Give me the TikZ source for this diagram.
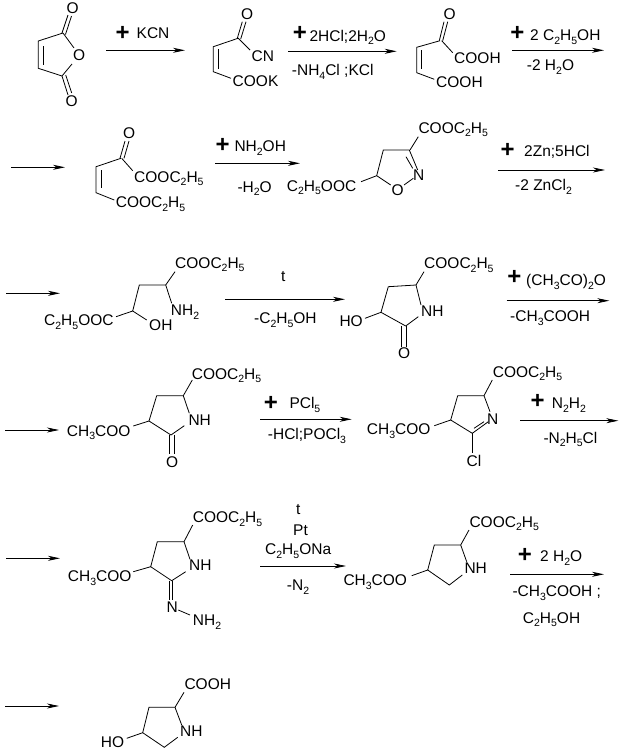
\documentclass[tikz,border=0pt]{standalone}
\usepackage{fontspec}
\setmainfont{Liberation Sans}
\usetikzlibrary{arrows.meta}
\newcommand{\dn}[1]{\raisebox{-3.5pt}{\fontsize{10.5}{11}\selectfont #1}}
\tikzset{
  lab/.style={anchor=base west, inner sep=0pt, font=\fontsize{15.5}{18}\selectfont},
  pluss/.style={inner sep=0pt, font=\fontsize{24}{24}\selectfont\bfseries},
  bond/.style={line width=0.8pt},
  rarrow/.style={line width=0.8pt, -{Stealth[length=12pt, width=5pt, inset=3.5pt]}}
}
\begin{document}
\begin{tikzpicture}[x=1pt, y=-1pt]
  \useasboundingbox (0,0) rectangle (623,755);

  \node[lab] (oa) at (66.5,13.5) {O};
  \node[lab] (ob) at (73,60.5) {O};
  \node[lab] (oc) at (65.5,106) {O};
  \draw[bond] (63,33) -- (38.3,41) -- (38.3,68.3) -- (62,76) -- (72,64);
  \draw[bond] (63,33) -- (74,48);
  \draw[bond] (43.3,46) -- (43.3,65);
  \draw[bond] (62,33) -- (68,15) (65.5,34.5) -- (71.5,16);
  \draw[bond] (62,76) -- (68,95) (65.7,75) -- (71.7,93);

  \coordinate (s1) at (106,50.3);
  \coordinate (e1) at (185,50.3);
  \draw[rarrow] (s1) -- (e1);
  \node[pluss] (p1) at (122.7,33) {+};
  \node[lab] (kcn) at (136.5,38.5) {KCN};

  \node[lab] (ob2) at (241,19) {O};
  \node[lab] (cn) at (251.5,61.5) {CN};
  \node[lab] (cook) at (232.5,86) {COOK};
  \draw[bond] (238,38.3) -- (213.3,46.7) -- (213.3,71.7) -- (231,78.3);
  \draw[bond] (218.3,49) -- (218.3,69);
  \draw[bond] (237.3,38.3) -- (242.3,21.7) (240.7,39) -- (246,21.7);
  \draw[bond] (238,38) -- (250,50);

  \coordinate (s2) at (288,51.3);
  \coordinate (e2) at (396.7,51.3);
  \draw[rarrow] (s2) -- (e2);
  \node[pluss] (p2) at (300,33.3) {+};
  \node[lab] (hcl) at (309.3,41) {2HCl;2H\dn{2}O};
  \node[lab] (nh4) at (291.7,75.5) {-NH\dn{4}Cl ;KCl};

  \node[lab] (oc3) at (443.5,19.5) {O};
  \node[lab] (cooha) at (454,63.5) {COOH};
  \node[lab] (coohb) at (436,87.5) {COOH};
  \draw[bond] (440,40.7) -- (416.7,47.3) -- (416.7,72.7) -- (434.3,79.3);
  \draw[bond] (421.7,50) -- (421.7,69);
  \draw[bond] (439.3,40.7) -- (444,21.7) (442.7,40.7) -- (447.7,21.7);
  \draw[bond] (441.7,40.7) -- (452.7,52.7);

  \coordinate (s3) at (512,50.3);
  \coordinate (e3) at (604,50.3);
  \draw[rarrow] (s3) -- (e3);
  \node[pluss] (p3) at (517.3,33.3) {+};
  \node[lab] (etoh) at (530,40.5) {2 C\dn{2}H\dn{5}OH};
  \node[lab] (mwa) at (526.7,70.5) {-2 H\dn{2}O};

  \coordinate (s4) at (11,167.3);
  \coordinate (e4) at (65,167.3);
  \draw[rarrow] (s4) -- (e4);
  \node[lab] (od) at (123,138.5) {O};
  \node[lab] (esa) at (134,182) {COOC\dn{2}H\dn{5}};
  \node[lab] (esb) at (115.7,207.5) {COOC\dn{2}H\dn{5}};
  \draw[bond] (121,158.3) -- (96,166.7) -- (96,192.7) -- (114.3,200);
  \draw[bond] (101,170) -- (101,188);
  \draw[bond] (120,158.3) -- (125,141) (124,158.3) -- (129,141);
  \draw[bond] (121.7,158.3) -- (132.7,170.7);

  \coordinate (s5) at (215,163.3);
  \coordinate (e5) at (300,163.3);
  \draw[rarrow] (s5) -- (e5);
  \node[pluss] (p5) at (222.7,145) {+};
  \node[lab] (nhoh) at (234.3,151.5) {NH\dn{2}OH};
  \node[lab] (mwb) at (237.3,192) {-H\dn{2}O};

  \node[lab] (esc) at (286.7,191) {C\dn{2}H\dn{5}OOC};
  \node[lab] (esd) at (418.3,133) {COOC\dn{2}H\dn{5}};
  \node[lab] (n1) at (413,180) {N};
  \node[lab] (o1) at (391.5,195.5) {O};
  \draw[bond] (361,181.7) -- (376.7,175.7) -- (383.3,150) -- (409.3,150) -- (417.7,170);
  \draw[bond] (376.7,175.7) -- (390.7,185);
  \draw[bond] (404,185) -- (413.3,178.3);
  \draw[bond] (406,156.7) -- (412.7,168.3);
  \draw[bond] (410,150) -- (418.3,136.7);

  \coordinate (s6) at (498.3,170);
  \coordinate (e6) at (605,170);
  \draw[rarrow] (s6) -- (e6);
  \node[pluss] (p6) at (507.7,150) {+};
  \node[lab] (zn) at (524,156.5) {2Zn;5HCl};
  \node[lab] (zncl) at (515,190.5) {-2 ZnCl\dn{2}};

  \coordinate (s7) at (6,293.3);
  \coordinate (e7) at (60,293.3);
  \draw[rarrow] (s7) -- (e7);
  \node[lab] (ese) at (44,325.5) {C\dn{2}H\dn{5}OOC};
  \node[lab] (esf) at (175,268) {COOC\dn{2}H\dn{5}};
  \node[lab] (nh2a) at (170.7,315.5) {NH\dn{2}};
  \node[lab] (oha) at (149,330.5) {OH};
  \draw[bond] (116,316.7) -- (132.7,311) -- (139.3,285) -- (165.7,285) -- (175,271.7);
  \draw[bond] (165.7,285) -- (171.7,303.3);
  \draw[bond] (132.7,311) -- (146.7,320);

  \coordinate (s8) at (225,299.3);
  \coordinate (e8) at (345,299.3);
  \draw[rarrow] (s8) -- (e8);
  \node[lab] (ta) at (281,281.5) {t};
  \node[lab] (ethb) at (254,323.5) {-C\dn{2}H\dn{5}OH};

  \node[lab] (esg) at (424,268.5) {COOC\dn{2}H\dn{5}};
  \node[lab] (nha) at (421,316) {NH};
  \node[lab] (hoa) at (339.3,326.5) {HO};
  \node[lab] (oe) at (398,358.5) {O};
  \draw[bond] (365,318.3) -- (381,312.3) -- (388.3,286.7) -- (416,285) -- (424,271.7);
  \draw[bond] (416,285) -- (421,305);
  \draw[bond] (381,312.3) -- (405.7,326) -- (418.3,316.7);
  \draw[bond] (401.7,326) -- (401.7,346.7) (406,326) -- (406,346.7);

  \coordinate (s9) at (506.7,300.7);
  \coordinate (e9) at (609.3,300.7);
  \draw[rarrow] (s9) -- (e9);
  \node[pluss] (p9) at (514.3,277.7) {+};
  \node[lab] (ac) at (526,285.5) {(CH\dn{3}CO)\dn{2}O};
  \node[lab] (acoh) at (510,321.5) {-CH\dn{3}COOH};

  \coordinate (s10) at (5,430);
  \coordinate (e10) at (59,430);
  \draw[rarrow] (s10) -- (e10);
  \node[lab] (aca) at (66.7,436) {CH\dn{3}COO};
  \node[lab] (esh) at (191.7,379) {COOC\dn{2}H\dn{5}};
  \node[lab] (nhb) at (188.3,425) {NH};
  \node[lab] (of) at (166,467.5) {O};
  \draw[bond] (133.3,426) -- (149,421) -- (156.7,395.7) -- (183.3,395.7) -- (192.3,380);
  \draw[bond] (183.3,395.7) -- (189.3,413.3);
  \draw[bond] (149,421) -- (171,435) -- (184.3,425.7);
  \draw[bond] (169.3,435) -- (169.3,454.3) (174.3,435) -- (174.3,454.3);

  \coordinate (s11) at (260,419.3);
  \coordinate (e11) at (351.7,419.3);
  \draw[rarrow] (s11) -- (e11);
  \node[pluss] (p11) at (271,403.3) {+};
  \node[lab] (pcl) at (289.3,408.5) {PCl\dn{5}};
  \node[lab] (pocl) at (267.7,439.5) {-HCl;POCl\dn{3}};

  \node[lab] (acb) at (366.7,434.5) {CH\dn{3}COO};
  \node[lab] (esi) at (492.7,377) {COOC\dn{2}H\dn{5}};
  \node[lab] (n2) at (487,424) {N};
  \node[lab] (cl) at (466.5,466.5) {Cl};
  \draw[bond] (434.3,425.7) -- (450.7,420) -- (457.7,395.7) -- (484,395.7) -- (492.3,380);
  \draw[bond] (484,395.7) -- (490,411.7);
  \draw[bond] (450.7,420) -- (472.3,433.3) -- (488.3,421.7);
  \draw[bond] (474,428.3) -- (484,421.7);
  \draw[bond] (472.3,433.3) -- (472.3,453.3);

  \coordinate (s12) at (520,420.7);
  \coordinate (e12) at (618.3,420.7);
  \draw[rarrow] (s12) -- (e12);
  \node[pluss] (p12) at (537.7,401) {+};
  \node[lab] (nn) at (551.7,408.5) {N\dn{2}H\dn{2}};
  \node[lab] (nncl) at (543.3,443) {-N\dn{2}H\dn{5}Cl};

  \coordinate (s13) at (6,558.3);
  \coordinate (e13) at (60,558.3);
  \draw[rarrow] (s13) -- (e13);
  \node[lab] (acc) at (67.7,581.5) {CH\dn{3}COO};
  \node[lab] (esj) at (192.7,522.5) {COOC\dn{2}H\dn{5}};
  \node[lab] (nhc) at (189,570.5) {NH};
  \node[lab] (n3) at (166.5,612.5) {N};
  \node[lab] (nh2b) at (192.7,625.5) {NH\dn{2}};
  \draw[bond] (133.3,571.7) -- (150.7,566.7) -- (157.3,541.7) -- (184,541.7) -- (192.7,525);
  \draw[bond] (184,541.7) -- (190,559.3);
  \draw[bond] (150.7,566.7) -- (171.7,580.7) -- (185.7,571.7);
  \draw[bond] (169.3,580.7) -- (169.3,600) (172.7,580.7) -- (172.7,600);
  \draw[bond] (178.3,610) -- (190,615);

  \coordinate (s14) at (260,566);
  \coordinate (e14) at (346,566);
  \draw[rarrow] (s14) -- (e14);
  \node[lab] (tb) at (296,514.5) {t};
  \node[lab] (pt) at (293,535) {Pt};
  \node[lab] (naoet) at (265,554.5) {C\dn{2}H\dn{5}ONa};
  \node[lab] (nb) at (286.7,590.5) {-N\dn{2}};

  \node[lab] (acd) at (343.3,585.5) {CH\dn{3}COO};
  \node[lab] (esk) at (469.3,527) {COOC\dn{2}H\dn{5}};
  \node[lab] (nhd) at (464.3,573.5) {NH};
  \draw[bond] (411.7,575.7) -- (427.7,570) -- (434.3,545) -- (460.7,545) -- (469,530);
  \draw[bond] (460.7,545) -- (466.7,561.7);
  \draw[bond] (427.7,570) -- (449.3,585) -- (462.3,575);

  \coordinate (s15) at (510,574.3);
  \coordinate (e15) at (604,574.3);
  \draw[rarrow] (s15) -- (e15);
  \node[pluss] (p15) at (525,555.7) {+};
  \node[lab] (wat) at (540,561.5) {2 H\dn{2}O};
  \node[lab] (acoh2) at (512.3,596.5) {-CH\dn{3}COOH ;};
  \node[lab] (etoh2) at (522.7,623) {C\dn{2}H\dn{5}OH};

  \coordinate (s16) at (5,706);
  \coordinate (e16) at (59,706);
  \draw[rarrow] (s16) -- (e16);
  \node[lab] (coohc) at (184.3,689.5) {COOH};
  \node[lab] (nhe) at (180,736) {NH};
  \node[lab] (hob) at (100.7,747.5) {HO};
  \draw[bond] (126.7,738.3) -- (142.7,732.7) -- (149,707.3) -- (175,707.3) -- (184,692.3);
  \draw[bond] (175,707.3) -- (181.7,725);
  \draw[bond] (142.7,732.7) -- (164.3,747.3) -- (177.7,737.3);
\end{tikzpicture}
\end{document}
